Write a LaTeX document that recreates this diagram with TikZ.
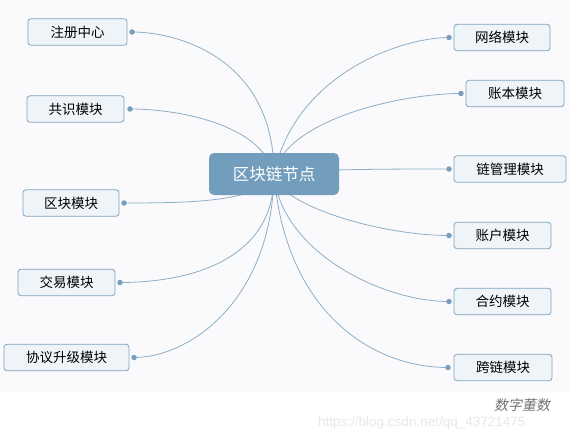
\documentclass[tikz,border=0pt]{standalone}
\usepackage{fontspec}
\newfontfamily\cjk{Noto Sans CJK SC}
\setsansfont{Liberation Sans}
\usetikzlibrary{backgrounds}
\definecolor{bgc}{HTML}{FAFAFC}
\definecolor{hubfill}{HTML}{729DBD}
\definecolor{boxfill}{HTML}{EFF4F8}
\definecolor{boxline}{HTML}{7FA3BF}
\definecolor{linkc}{HTML}{8DAEC8}
\definecolor{dotc}{HTML}{7A9FBC}
\tikzset{
  hub/.style={draw=none, fill=hubfill, rounded corners=5pt, minimum width=130pt, minimum height=42pt, inner sep=0pt, text=white, font=\cjk\fontsize{16.5}{18}\selectfont},
  topic/.style={draw=boxline, line width=0.8pt, fill=boxfill, rounded corners=3pt, minimum height=26.5pt, inner sep=0pt, text=black, font=\cjk\fontsize{13.5}{15}\selectfont},
  knob/.style={circle, fill=dotc, draw=none, minimum size=5.5pt, inner sep=0pt},
  link/.style={draw=linkc, line width=0.8pt},
}
\begin{document}
\begin{tikzpicture}[x=1pt,y=-1pt]
\useasboundingbox (0,0) rectangle (570,433);

\node[hub] (hub) at (274,174) {区块链节点};

% left topics
\node[topic, minimum width=99pt] (zc) at (77.5,32) {注册中心};
\node[topic, minimum width=97pt] (gs) at (75.5,109) {共识模块};
\node[topic, minimum width=96pt] (qk) at (71,203) {区块模块};
\node[topic, minimum width=97pt] (jy) at (66.5,282.5) {交易模块};
\node[topic, minimum width=125pt] (xy) at (66.5,357.5) {协议升级模块};
% right topics
\node[topic, minimum width=96pt] (wl) at (502,37.5) {网络模块};
\node[topic, minimum width=98pt] (zb) at (515,93.5) {账本模块};
\node[topic, minimum width=112pt] (lgl) at (510,169) {链管理模块};
\node[topic, minimum width=97pt] (zh) at (502.5,235.5) {账户模块};
\node[topic, minimum width=97pt] (hy) at (502.5,301.5) {合约模块};
\node[topic, minimum width=98pt] (kl) at (503,367.5) {跨链模块};

% knobs
\node[knob] (dzc) at (132,32) {};
\node[knob] (dgs) at (130,109) {};
\node[knob] (dqk) at (124,203) {};
\node[knob] (djy) at (120,282.5) {};
\node[knob] (dxy) at (134,357.5) {};
\node[knob] (dwl) at (449,37.5) {};
\node[knob] (dzb) at (461,93.5) {};
\node[knob] (dlgl) at (449,169) {};
\node[knob] (dzh) at (449,235.5) {};
\node[knob] (dhy) at (449,301.5) {};
\node[knob] (dkl) at (448,367.5) {};

\begin{pgfonlayer}{background}
\fill[white] (0,0) rectangle (570,433);
\fill[bgc] (0,0) rectangle (570,392);
\path[link] (hub.center) .. controls (274,60) and (180,32) .. (dzc.center);
\path[link] (hub.center) .. controls (262,125) and (180,109) .. (dgs.center);
\path[link] (hub.center) .. controls (262,202) and (190,203) .. (dqk.center);
\path[link] (hub.center) .. controls (275,260) and (190,282.5) .. (djy.center);
\path[link] (hub.center) .. controls (272,300) and (190,357.5) .. (dxy.center);
\path[link] (hub.center) .. controls (295,75) and (400,37.5) .. (dwl.center);
\path[link] (hub.center) .. controls (285,120) and (400,93.5) .. (dzb.center);
\path[link] (hub.center) .. controls (300,169) and (400,169) .. (dlgl.center);
\path[link] (hub.center) .. controls (278,205) and (380,235.5) .. (dzh.center);
\path[link] (hub.center) .. controls (280,250) and (380,301.5) .. (dhy.center);
\path[link] (hub.center) .. controls (285,310) and (370,367.5) .. (dkl.center);
\end{pgfonlayer}

% watermark
\node[anchor=west, inner sep=0pt, text=black!9, font=\sffamily\fontsize{13.5}{15}\selectfont] (url) at (318,423) {https://blog.csdn.net/qq\_43721475};
\node[anchor=west, inner sep=0pt, text=black!55, font=\cjk\fontsize{14}{16}\selectfont, xslant=0.2] (wm) at (495,405.5) {数字董数};
\end{tikzpicture}
\end{document}
